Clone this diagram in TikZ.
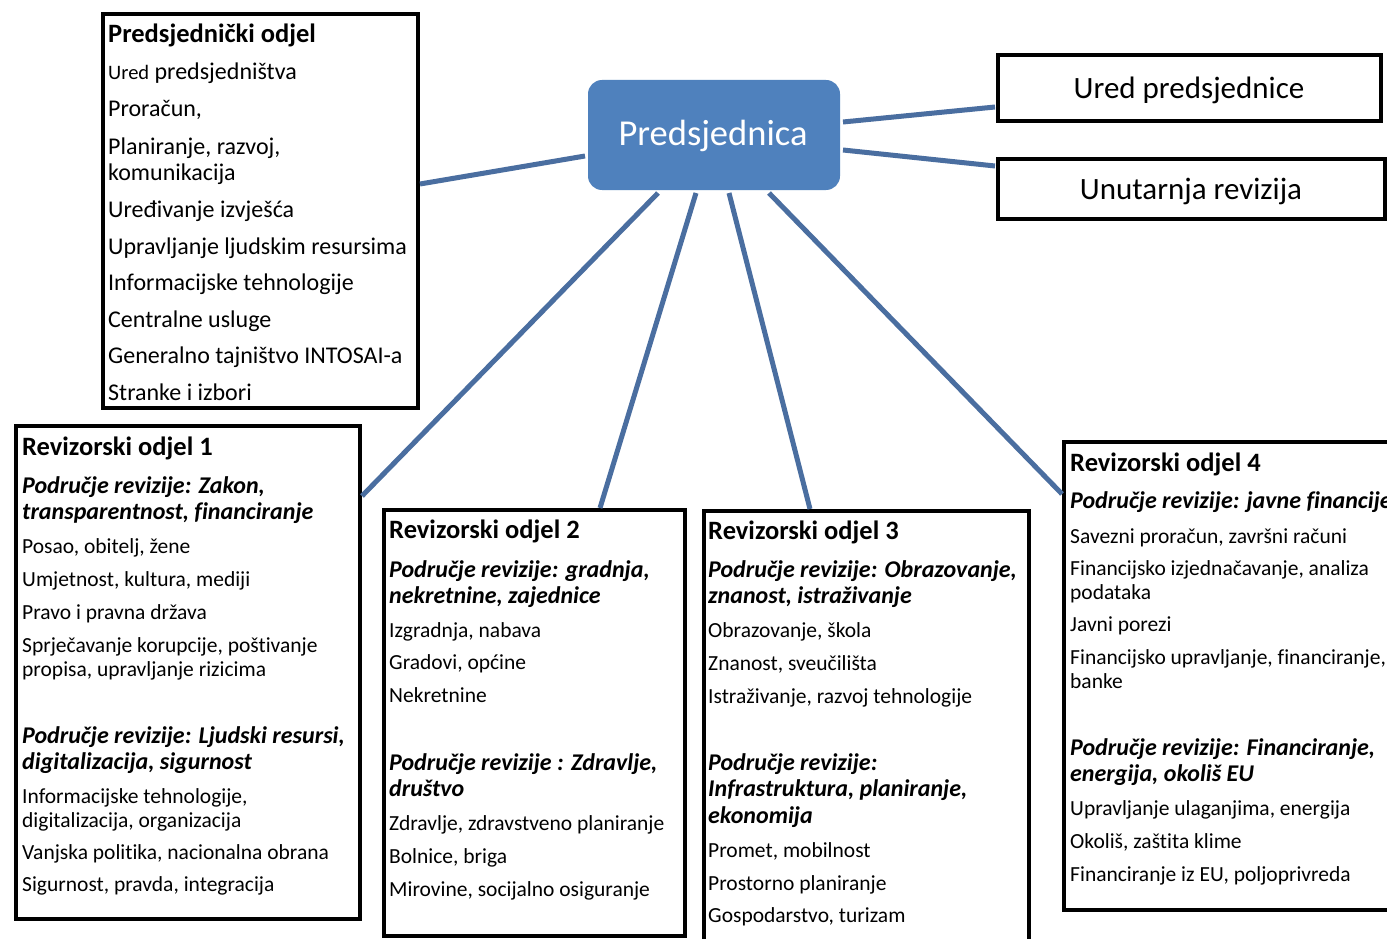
\documentclass[tikz,border=0pt]{standalone}
\usepackage{fontspec}
\setmainfont[Ligatures={NoCommon}]{Carlito}
\definecolor{presfill}{RGB}{79,129,189}
\definecolor{linkblue}{RGB}{74,110,160}
\begin{document}
\begin{tikzpicture}[x=1pt,y=-1pt,
  frame/.style={draw=black, line width=4pt, fill=white, inner sep=0pt, outer sep=0pt, anchor=north west},
  conn/.style={draw=linkblue, line width=5pt},
  body/.style={anchor=base west, inner sep=0pt, font=\fontsize{21.5}{26}\selectfont},
  bodybig/.style={anchor=base west, inner sep=0pt, font=\fontsize{24}{28}\selectfont},
  head/.style={anchor=base west, inner sep=0pt, font=\bfseries\fontsize{26.5}{30}\selectfont},
  sub/.style={anchor=base west, inner sep=0pt, font=\bfseries\itshape\fontsize{24}{28}\selectfont}]
\useasboundingbox (0,0) rectangle (1387,939);
\clip (0,0) rectangle (1387,939);
\fill[white] (0,0) rectangle (1387,939);

% boxes
\node[frame, minimum width=315pt, minimum height=394pt] (pod) at (103,14) {};
\node[frame, minimum width=344pt, minimum height=493pt] (b1) at (16,426) {};
\node[frame, minimum width=301pt, minimum height=426pt] (b2) at (384,510) {};
\node[frame, minimum width=325pt, minimum height=460pt] (b3) at (704,511) {};
\node[frame, minimum width=340pt, minimum height=468pt] (b4) at (1064,442) {};
\node[frame, minimum width=383pt, minimum height=66pt] (ured) at (998,55) {};
\node[frame, minimum width=387pt, minimum height=60pt] (unut) at (998,159) {};
\node[fill=presfill, rounded corners=14pt, minimum width=252pt, minimum height=110pt,
      anchor=north west, inner sep=0pt, outer sep=0pt] (pres) at (588,80) {};

% connectors
\draw[conn] ([shift={(-3,76)}]pres.north west) -- ([shift={(2,170)}]pod.north east);
\draw[conn] ([shift={(3,42)}]pres.north east) -- ([shift={(-3,52)}]ured.north west);
\draw[conn] ([shift={(3,70)}]pres.north east) -- ([shift={(-3,7)}]unut.north west);
\draw[conn] ([shift={(70,3)}]pres.south west) -- ([shift={(2,70)}]b1.north east);
\draw[conn] ([shift={(108,3)}]pres.south west) -- ([shift={(216,-2)}]b2.north west);
\draw[conn] ([shift={(141,3)}]pres.south west) -- ([shift={(106,-2)}]b3.north west);
\draw[conn] ([shift={(181,3)}]pres.south west) -- ([shift={(-2,52)}]b4.north west);

% center texts
\node[text=white, font=\fontsize{36.5}{40}\selectfont] (prest) at (713,136) {Predsjednica};
\node[font=\fontsize{31}{36}\selectfont] (uredt) at (1189,90) {Ured predsjednice};
\node[font=\fontsize{31}{36}\selectfont] (unutt) at (1191,191) {Unutarnja revizija};

% Predsjednicki odjel
\node[head] (podh) at (108,43) {Predsjednički odjel};
\foreach \y/\t [count=\i] in {80/{{\fontsize{20.5}{24}\selectfont Ured} predsjedništva},117/{Proračun,},
  155/{Planiranje, razvoj,},180/{komunikacija},217/{Uređivanje izvješća},
  254/{Upravljanje ljudskim resursima},290/{Informacijske tehnologije},
  327/{Centralne usluge},363/{Generalno tajništvo INTOSAI-a},400/{Stranke i izbori}}
  \node[bodybig] (pod-\i) at (108,\y) {\t};

% Revizorski odjel 1
\node[head] (b1h) at (22,455) {Revizorski odjel 1};
\foreach \y/\t [count=\i] in {493/{Područje revizije: Zakon,},519/{transparentnost, financiranje},
  743/{Područje revizije: Ljudski resursi,},769/{digitalizacija, sigurnost}}
  \node[sub] (b1s-\i) at (22,\y) {\t};
\foreach \y/\t [count=\i] in {553/{Posao, obitelj, žene},586/{Umjetnost, kultura, mediji},
  619/{Pravo i pravna država},652/{Sprječavanje korupcije, poštivanje},
  676/{propisa, upravljanje rizicima},803/{Informacijske tehnologije,},
  827/{digitalizacija, organizacija},859/{Vanjska politika, nacionalna obrana},
  891/{Sigurnost, pravda, integracija}}
  \node[body] (b1t-\i) at (22,\y) {\t};

% Revizorski odjel 2
\node[head] (b2h) at (389,538) {Revizorski odjel 2};
\foreach \y/\t [count=\i] in {577/{Područje revizije: gradnja,},603/{nekretnine, zajednice},
  770/{Područje revizije : Zdravlje,},796/{društvo}}
  \node[sub] (b2s-\i) at (389,\y) {\t};
\foreach \y/\t [count=\i] in {637/{Izgradnja, nabava},669/{Gradovi, općine},702/{Nekretnine},
  830/{Zdravlje, zdravstveno planiranje},863/{Bolnice, briga},896/{Mirovine, socijalno osiguranje}}
  \node[body] (b2t-\i) at (389,\y) {\t};

% Revizorski odjel 3
\node[head] (b3h) at (708,539) {Revizorski odjel 3};
\foreach \y/\t [count=\i] in {577/{Područje revizije: Obrazovanje,},603/{znanost, istraživanje},
  770/{Područje revizije:},796/{Infrastruktura, planiranje,},823/{ekonomija}}
  \node[sub] (b3s-\i) at (708,\y) {\t};
\foreach \y/\t [count=\i] in {637/{Obrazovanje, škola},670/{Znanost, sveučilišta},
  703/{Istraživanje, razvoj tehnologije},857/{Promet, mobilnost},890/{Prostorno planiranje},
  922/{Gospodarstvo, turizam}}
  \node[body] (b3t-\i) at (708,\y) {\t};

% Revizorski odjel 4
\node[head] (b4h) at (1070,471) {Revizorski odjel 4};
\foreach \y/\t [count=\i] in {508/{Područje revizije: javne financije},
  755/{Područje revizije: Financiranje,},781/{energija, okoliš EU}}
  \node[sub] (b4s-\i) at (1070,\y) {\t};
\foreach \y/\t [count=\i] in {543/{Savezni proračun, završni računi},
  575/{Financijsko izjednačavanje, analiza},599/{podataka},631/{Javni porezi},
  664/{Financijsko upravljanje, financiranje,},688/{banke},
  815/{Upravljanje ulaganjima, energija},848/{Okoliš, zaštita klime},
  881/{Financiranje iz EU, poljoprivreda}}
  \node[body] (b4t-\i) at (1070,\y) {\t};
\end{tikzpicture}
\end{document}
